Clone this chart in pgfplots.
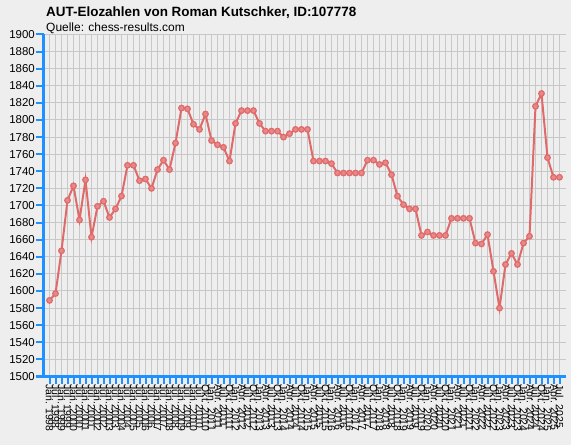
\documentclass[border=0pt]{standalone}
\usepackage{pgfplots}
\pgfplotsset{compat=1.18}
\usepackage{fontspec}
\setmainfont{Liberation Sans}

\definecolor{bgcol}{HTML}{EEEEEE}
\definecolor{gridcol}{HTML}{C8C8C8}
\definecolor{axisblue}{HTML}{1E90FF}
\definecolor{elored}{RGB}{224,106,106}

\begin{document}
\begin{tikzpicture}
\fill[bgcol] (0,0) rectangle (571bp,445bp);
\path[use as bounding box] (0,0) rectangle (571bp,445bp);

\node[anchor=base west,inner sep=0] at (46bp,428.3bp)
  {\fontsize{13.5}{16}\selectfont\bfseries AUT-Elozahlen von Roman Kutschker, ID:107778};
\node[anchor=base west,inner sep=0] at (46bp,413.5bp)
  {\fontsize{12}{14}\selectfont Quelle: chess-results.com};

\begin{axis}[
  at={(43.5bp,68.5bp)}, anchor=south west,
  scale only axis, width=522bp, height=342bp,
  xmin=-1, xmax=86, ymin=1500, ymax=1900,
  axis lines=left,
  axis line style={-, draw=axisblue, line width=2.5bp},
  every outer x axis line/.append style={-},
  every outer y axis line/.append style={-},
  xtick={0,...,85},
  ytick={1500,1520,...,1900},
  xticklabels={Jan. 1998,Jul. 1998,Jan. 1999,Jul. 1999,Jan. 2000,Jul. 2000,
    Jan. 2001,Jul. 2001,Jan. 2002,Jul. 2002,Jan. 2003,Jul. 2003,
    Jan. 2004,Jul. 2004,Jan. 2005,Jul. 2005,Jan. 2006,Jul. 2006,
    Jan. 2007,Jul. 2007,Jan. 2008,Jul. 2008,Jan. 2009,Jul. 2009,
    Jan. 2010,Jul. 2010,Okt. 2010,
    Jan. 2011,Apr. 2011,Jul. 2011,Okt. 2011,Jan. 2012,Apr. 2012,Jul. 2012,Okt. 2012,
    Jan. 2013,Apr. 2013,Jul. 2013,Okt. 2013,Jan. 2014,Apr. 2014,Jul. 2014,Okt. 2014,
    Jan. 2015,Apr. 2015,Jul. 2015,Okt. 2015,Jan. 2016,Apr. 2016,Jul. 2016,Okt. 2016,
    Jan. 2017,Apr. 2017,Jul. 2017,Okt. 2017,Jan. 2018,Apr. 2018,Jul. 2018,Okt. 2018,
    Jan. 2019,Apr. 2019,Jul. 2019,Okt. 2019,Jan. 2020,Apr. 2020,Jul. 2020,Okt. 2020,
    Jan. 2021,Apr. 2021,Jul. 2021,Okt. 2021,Jan. 2022,Apr. 2022,Jul. 2022,Okt. 2022,
    Jan. 2023,Apr. 2023,Jul. 2023,Okt. 2023,Jan. 2024,Apr. 2024,Jul. 2024,Okt. 2024,
    Jan. 2025,Apr. 2025,Jul. 2025},
  tick align=outside,
  major tick length=7bp,
  tick style={draw=axisblue, line width=2bp},
  grid=major,
  major grid style={draw=gridcol, line width=1bp},
  x tick label style={rotate=-90, anchor=west, inner sep=1bp,
    font=\fontsize{10.5}{11}\selectfont},
  y tick label style={font=\fontsize{11.5}{12}\selectfont, inner sep=1.5bp},
  /pgf/number format/assume math mode=true,
  /pgf/number format/1000 sep={},
]
\addplot[color=elored, line width=2bp, mark=*, mark size=2.8bp,
  mark options={fill=elored!80!white, draw=elored, line width=1.2bp}]
  coordinates {
  (0,1589) (1,1597) (2,1647) (3,1706) (4,1723) (5,1683) (6,1730) (7,1663)
  (8,1699) (9,1705) (10,1686) (11,1696) (12,1711) (13,1747) (14,1747) (15,1729)
  (16,1731) (17,1720) (18,1742) (19,1753) (20,1742) (21,1773) (22,1814) (23,1813)
  (24,1795) (25,1789) (26,1807) (27,1776) (28,1771) (29,1768) (30,1752) (31,1796)
  (32,1811) (33,1811) (34,1811) (35,1796) (36,1787) (37,1787) (38,1787) (39,1780)
  (40,1784) (41,1789) (42,1789) (43,1789) (44,1752) (45,1752) (46,1752) (47,1749)
  (48,1738) (49,1738) (50,1738) (51,1738) (52,1738) (53,1753) (54,1753) (55,1748)
  (56,1750) (57,1736) (58,1711) (59,1701) (60,1696) (61,1696) (62,1665) (63,1669)
  (64,1665) (65,1665) (66,1665) (67,1685) (68,1685) (69,1685) (70,1685) (71,1656)
  (72,1655) (73,1666) (74,1623) (75,1580) (76,1631) (77,1644) (78,1631) (79,1656)
  (80,1664) (81,1816) (82,1831) (83,1756) (84,1733) (85,1733)
  };
\end{axis}
\end{tikzpicture}
\end{document}
